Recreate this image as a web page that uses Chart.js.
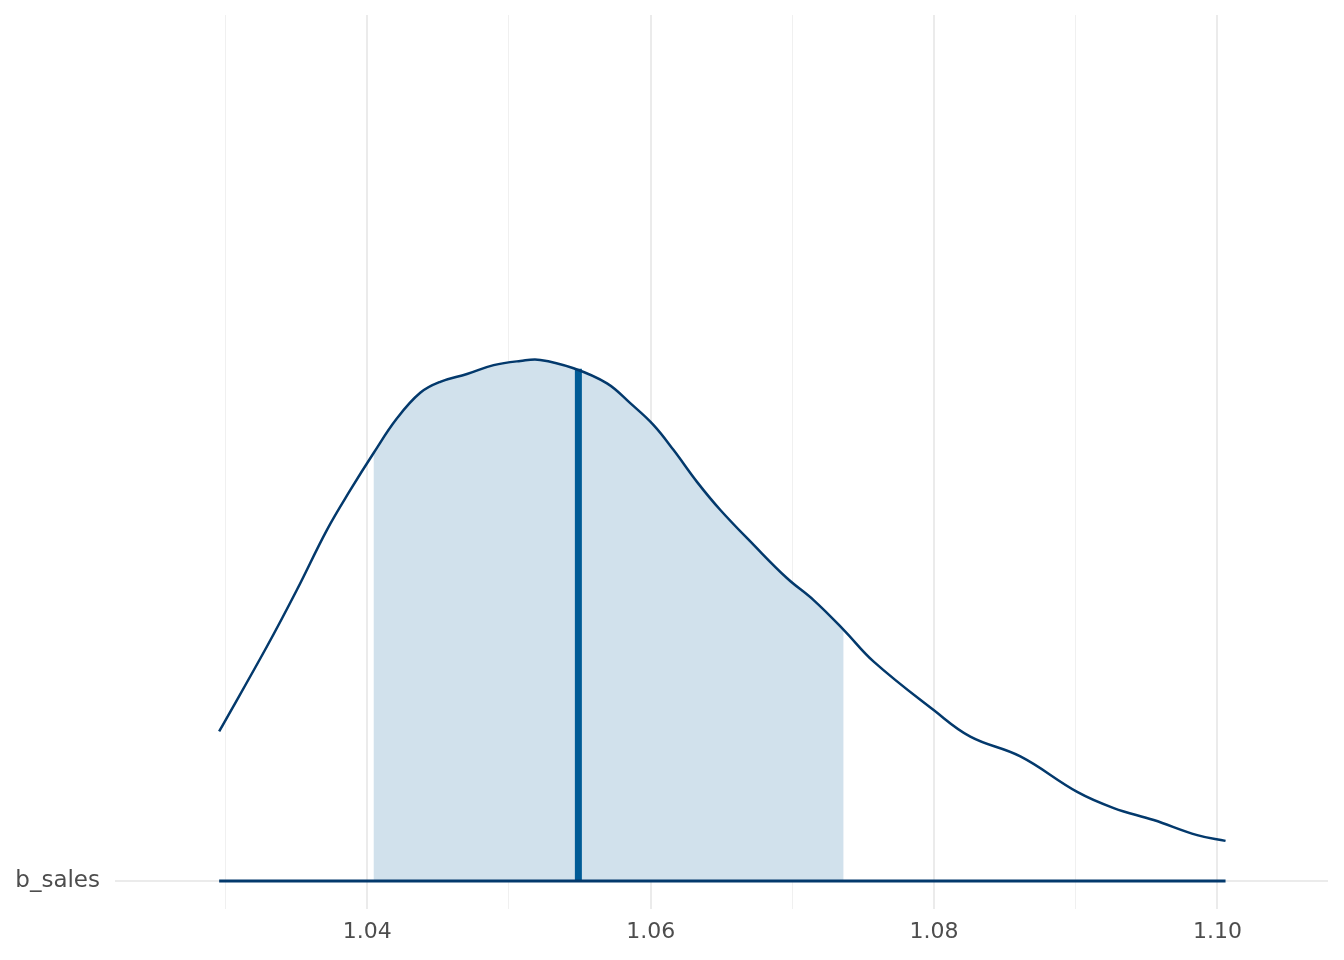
<!DOCTYPE html>
<html>
<head>
<meta charset="utf-8">
<script src="https://cdn.jsdelivr.net/npm/chart.js@4"></script>
<style>
  body { margin: 0; background: #fff; }
  #wrap { width: 1344px; height: 960px; }
</style>
</head>
<body>
<div id="wrap"><canvas id="chart"></canvas></div>
<script>
// posterior density of b_sales
const densityX = [1.02955, 1.03292, 1.03504, 1.03716, 1.0388, 1.04044, 1.0421, 1.04374, 1.04515, 1.04704,
  1.04892, 1.0508, 1.05221, 1.05456, 1.05692, 1.05856, 1.06021, 1.06162, 1.06327, 1.06492,
  1.06727, 1.06963, 1.0715, 1.07362, 1.07574, 1.07997, 1.08256, 1.08609, 1.0901, 1.09268,
  1.0955, 1.09857, 1.10057];
const densityY = [0.287, 0.450, 0.559, 0.674, 0.750, 0.821, 0.888, 0.937, 0.958, 0.973,
  0.990, 0.998, 1.0, 0.984, 0.955, 0.917, 0.875, 0.827, 0.766, 0.712,
  0.645, 0.581, 0.539, 0.482, 0.421, 0.328, 0.277, 0.239, 0.171, 0.140,
  0.117, 0.088, 0.077];

const parameter = "b_sales";
const intervalLow = 1.04044;
const intervalHigh = 1.07362;
const medianX = 1.0549;
const medianY = 0.983;

const xBreaks = [1.03, 1.04, 1.05, 1.06, 1.07, 1.08, 1.09, 1.10];
const xTickLabels = ["", "1.04", "", "1.06", "", "1.08", "", "1.10"];

const curve = densityX.map((x, i) => ({ x, y: densityY[i] }));
const shaded = curve.filter(p => p.x >= intervalLow && p.x <= intervalHigh);

const ctx = document.getElementById("chart").getContext("2d");
new Chart(ctx, {
  type: "line",
  data: {
    datasets: [
      {
        data: shaded,
        borderWidth: 0,
        backgroundColor: "#d1e1ec",
        fill: "origin",
        tension: 0.4,
        pointRadius: 0,
        order: 4,
      },
      {
        data: [{ x: medianX, y: 0 }, { x: medianX, y: medianY }],
        borderColor: "#005b96",
        borderWidth: 7,
        borderCapStyle: "butt",
        fill: false,
        pointRadius: 0,
        clip: false,
        order: 3,
      },
      {
        data: [{ x: densityX[0], y: 0 }, { x: densityX[densityX.length - 1], y: 0 }],
        borderColor: "#03396c",
        borderWidth: 3,
        fill: false,
        pointRadius: 0,
        clip: false,
        order: 2,
      },
      {
        data: curve,
        borderColor: "#03396c",
        borderWidth: 2.5,
        fill: false,
        tension: 0.4,
        pointRadius: 0,
        clip: false,
        order: 1,
      },
    ],
  },
  options: {
    responsive: true,
    maintainAspectRatio: false,
    animation: false,
    layout: { padding: { top: 15, right: 16, left: 0, bottom: 0 } },
    plugins: { legend: { display: false }, tooltip: { enabled: false } },
    scales: {
      x: {
        type: "linear",
        min: 1.0222,
        max: 1.1078,
        afterBuildTicks: (scale) => { scale.ticks = xBreaks.map(v => ({ value: v })); },
        afterFit: (scale) => { scale.height = 79; scale.paddingLeft = 0; scale.paddingRight = 0; },
        border: { display: false },
        grid: {
          color: (c) => (c.index % 2 === 1 ? "#ebebeb" : "#f0f0f0"),
          lineWidth: (c) => (c.index % 2 === 1 ? 2 : 1),
          tickColor: (c) => (c.index % 2 === 1 ? "#ebebeb" : "#f0f0f0"),
          tickLength: 28,
        },
        ticks: {
          autoSkip: false,
          maxRotation: 0,
          padding: 10,
          color: "#4d4d4d",
          font: { family: "DejaVu Sans", size: 22 },
          callback: (v, i) => xTickLabels[i],
        },
      },
      y: {
        type: "linear",
        min: 0,
        max: 1.662,
        afterBuildTicks: (scale) => { scale.ticks = [{ value: 0 }]; },
        afterFit: (scale) => { scale.width = 115; scale.paddingTop = 0; scale.paddingBottom = 0; },
        border: { display: false },
        grid: { color: "#ebebeb", lineWidth: 2, drawTicks: false },
        ticks: {
          padding: 15,
          color: "#4d4d4d",
          font: { family: "DejaVu Sans", size: 23 },
          callback: () => parameter,
        },
      },
    },
  },
});
</script>
</body>
</html>
